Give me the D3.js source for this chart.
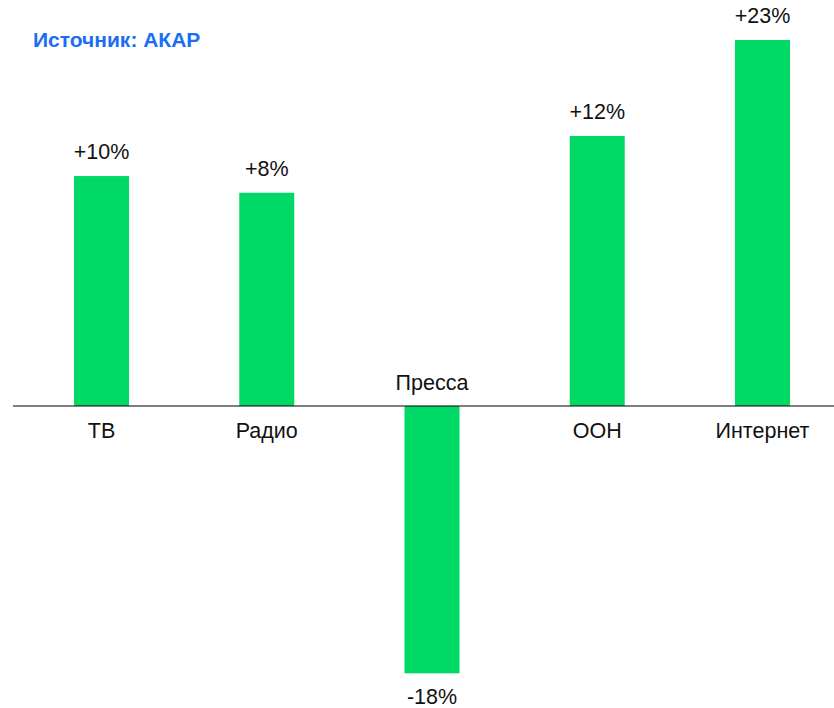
<!DOCTYPE html>
<html>
<head>
<meta charset="utf-8">
<script src="https://cdn.jsdelivr.net/npm/d3@7"></script>
<style>
  body { margin: 0; background: #fff; }
  text { font-family: "Liberation Sans", Arial, sans-serif; }
</style>
</head>
<body>
<svg id="chart"></svg>
<script>
// Categories and values
const categories = ["ТВ", "Радио", "Пресса", "OOH", "Интернет"];
const valueLabels = ["+10%", "+8%", "-18%", "+12%", "+23%"];
// bar lengths as drawn in the picture (not proportional to the labels)
const barValues = [14.45, 13.4, -16.8, 16.97, 23];

const width = 834;
const height = 708;
const baseY = 406;

const svg = d3.select("#chart")
    .attr("width", width)
    .attr("height", height);

// Source note
svg.append("text")
    .attr("x", 33)
    .attr("y", 47)
    .attr("fill", "#1a6ef5")
    .attr("font-size", 21)
    .attr("font-weight", "bold")
    .text("Источник: АКАР");

// Scales
const xScale = d3.scaleBand()
    .domain(categories)
    .range([19, 845])
    .paddingInner(0.667)
    .paddingOuter(0.333);

const yScale = d3.scaleLinear()
    .domain([0, 23])
    .range([baseY, 40]);

const rows = categories.map((c, i) => ({ cat: c, label: valueLabels[i], v: barValues[i] }));

// Bars
svg.selectAll(".bar")
    .data(rows)
    .enter()
    .append("rect")
    .attr("class", "bar")
    .attr("x", d => xScale(d.cat))
    .attr("y", d => Math.min(yScale(d.v), yScale(0)))
    .attr("width", xScale.bandwidth())
    .attr("height", d => Math.abs(yScale(d.v) - yScale(0)))
    .attr("fill", "#00d966");

// Baseline
svg.append("line")
    .attr("x1", 13)
    .attr("x2", 834)
    .attr("y1", yScale(0))
    .attr("y2", yScale(0))
    .attr("stroke", "#000")
    .attr("stroke-width", 1.2);

// Value labels
svg.selectAll(".val")
    .data(rows)
    .enter()
    .append("text")
    .attr("class", "val")
    .attr("x", d => xScale(d.cat) + xScale.bandwidth() / 2)
    .attr("y", d => d.v >= 0 ? yScale(d.v) - 17 : yScale(d.v) + 31)
    .attr("text-anchor", "middle")
    .attr("font-size", 21.5)
    .attr("fill", "#111")
    .text(d => d.label);

// Category labels
svg.selectAll(".cat")
    .data(rows)
    .enter()
    .append("text")
    .attr("class", "cat")
    .attr("x", d => xScale(d.cat) + xScale.bandwidth() / 2)
    .attr("y", d => d.v >= 0 ? yScale(0) + 32 : yScale(0) - 16)
    .attr("text-anchor", "middle")
    .attr("font-size", 21.5)
    .attr("fill", "#111")
    .text(d => d.cat);
</script>
</body>
</html>
